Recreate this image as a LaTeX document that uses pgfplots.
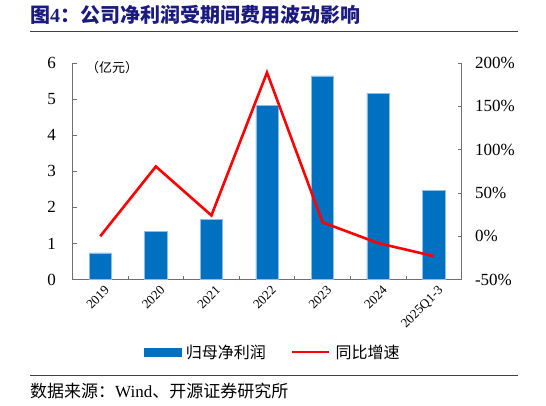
\documentclass[border=0pt]{standalone}
\usepackage{fontspec}
\setmainfont{Liberation Serif}
\newfontfamily\cjk{Noto Sans CJK SC}
\usepackage{pgfplots}
\pgfplotsset{compat=1.18}
\definecolor{barblue}{HTML}{0070C0}
\definecolor{baredge}{HTML}{8FBCE6}
\definecolor{titleblue}{HTML}{1A1A80}
\definecolor{axgray}{HTML}{6F6F6F}
\definecolor{linered}{HTML}{FF0000}

\begin{document}
\begin{tikzpicture}
\useasboundingbox (0pt,0pt) rectangle (546pt,405pt);
\begin{axis}[
  at={(72.5pt,125.5pt)}, anchor=south west,
  width=389pt, height=216.5pt, scale only axis,
  xmin=-0.5, xmax=6.5, ymin=0, ymax=6,
  axis x line*=bottom, axis y line*=left,
  axis line style={axgray, line width=0.8pt, -},
  tick style={axgray, line width=0.8pt},
  tick align=inside,
  major tick length=4pt,
  xtick={0.5,1.5,2.5,3.5,4.5,5.5}, xticklabels={},
  extra x ticks={0,1,2,3,4,5,6},
  extra x tick labels={2019,2020,2021,2022,2023,2024,2025Q1-3},
  extra x tick style={major tick length=0pt,
    xticklabel style={rotate=45, anchor=north east, xshift=2pt, yshift=-3pt, font=\fontsize{13}{13}\selectfont}},
  ytick={0,1,2,3,4,5,6},
  yticklabel style={font=\fontsize{17}{17}\selectfont, xshift=-13pt},
  /pgf/number format/assume math mode=true,
  clip=false,
]
\addplot[ybar, bar width=22.3pt, fill=barblue, draw=baredge, line width=0.5pt]
  coordinates {(0,0.74) (1,1.33) (2,1.66) (3,4.83) (4,5.64) (5,5.16) (6,2.47)};
\end{axis}
\begin{axis}[
  at={(72.5pt,125.5pt)}, anchor=south west,
  width=389pt, height=216.5pt, scale only axis,
  xmin=-0.5, xmax=6.5, ymin=-50, ymax=200,
  axis x line=none, axis y line*=right,
  axis line style={axgray, line width=0.8pt, -},
  tick style={axgray, line width=0.8pt},
  tick align=inside,
  major tick length=4pt,
  ytick={-50,0,50,100,150,200},
  yticklabel={\pgfmathprintnumber{\tick}\%},
  yticklabel style={font=\fontsize{17}{17}\selectfont, xshift=10pt},
  /pgf/number format/assume math mode=true,
  legend columns=2,
  legend style={at={(0.518,-0.335)}, anchor=center, draw=none,
    font=\cjk\fontsize{16}{16}\selectfont,
    nodes={inner xsep=5pt},
    /tikz/every even column/.append style={column sep=20pt}},
  clip=false,
]
\addlegendimage{legend image code/.code={\fill[barblue] (0pt,-4pt) rectangle (37pt,4pt);}}
\addlegendentry{归母净利润}
\addplot[linered, line width=2.6pt, mark=none,
  legend image code/.code={\draw[linered, line width=2.6pt] (0pt,0pt) -- (37pt,0pt);}]
  coordinates {(0,0) (1,80.5) (2,24) (3,189) (4,16) (5,-8) (6,-23)};
\addlegendentry{同比增速}
\end{axis}
\node[anchor=base west, inner sep=0, text=titleblue, font=\cjk\bfseries\fontsize{20}{20}\selectfont]
  at (30pt,382pt) {图{\rmfamily\bfseries 4}：公司净利润受期间费用波动影响};
\draw[black!75, line width=0.8pt] (30pt,374pt) -- (518pt,374pt);
\node[anchor=west, inner sep=0, font=\cjk\fontsize{13}{13}\selectfont] at (86pt,337pt) {（亿元）};
\draw[black!75, line width=0.8pt] (30pt,30pt) -- (518pt,30pt);
\node[anchor=base west, inner sep=0, font=\cjk\fontsize{17}{17}\selectfont]
  at (30pt,8pt) {数据来源：{\rmfamily Wind}、开源证券研究所};
\end{tikzpicture}
\end{document}
